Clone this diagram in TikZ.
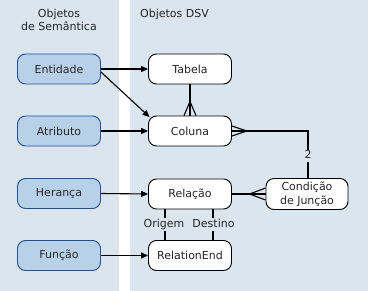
\documentclass[tikz,border=0pt]{standalone}
\usepackage{fontspec}
\setmainfont{DejaVu Sans}
\usetikzlibrary{arrows.meta,calc}
\definecolor{panel}{HTML}{DAE5EE}
\definecolor{semfill}{HTML}{B9D1E8}
\definecolor{semdraw}{HTML}{1F4FA0}
\tikzset{
  txt/.style={font=\fontsize{11}{14}\selectfont, text=black!85},
  box/.style={txt, draw=black, line width=0.9pt, rounded corners=8pt,
              minimum width=83pt, minimum height=30pt, inner sep=1pt, align=center},
  sem/.style={box, fill=semfill, draw=semdraw},
  dsv/.style={box, fill=white},
  conn/.style={line width=1.1pt, draw=black},
  arr/.style={conn, -{Triangle[length=7pt,width=6pt]}},
  lbl/.style={txt, fill=panel, inner sep=1pt, text height=8pt, text depth=2.5pt},
}
\begin{document}
\begin{tikzpicture}[x=1pt,y=-1pt]
\useasboundingbox (0,0) rectangle (368,291);
\fill[white] (0,0) rectangle (368,291);
\fill[panel] (0,0) rectangle (119.5,291);
\fill[panel] (130,0) rectangle (368,291);

\node[txt, font=\fontsize{11}{13}\selectfont, align=center] (hsem) at (59,19.5) {Objetos\\de Semântica};
\node[txt, anchor=west, inner sep=0pt] (hdsv) at (140,14) {Objetos DSV};

\node[sem] (ent) at (59,69) {Entidade};
\node[sem] (atr) at (59,131) {Atributo};
\node[sem] (her) at (59,193.5) {Herança};
\node[sem] (fun) at (59,255.5) {Função};

\node[dsv] (tab) at (190,69) {Tabela};
\node[dsv] (col) at (190,131) {Coluna};
\node[dsv] (rel) at (190,194) {Relação};
\node[dsv] (rend) at (190,255.5) {RelationEnd};
\node[dsv, minimum width=82pt, minimum height=31pt] (cond) at (307,194) {Condição\\de Junção};

% arrows from semantic objects
\draw[arr] (ent.east) -- (tab.west);
\draw[arr] ($(ent.east)+(0,3)$) -- ($(col.north west)+(1.5,1.5)$);
\draw[arr] (atr.east) -- (col.west);
\draw[arr] (her.east) -- (rel.west);
\draw[arr] (fun.east) -- (rend.west);

% Tabela - Coluna (crow's foot at Coluna)
\coordinate (cf1) at ($(col.north)+(0,-14)$);
\draw[conn] (tab.south) -- (col.north);
\draw[conn] (cf1) -- ($(col.north)+(-6,0)$);
\draw[conn] (cf1) -- ($(col.north)+(6,0)$);

% Coluna - Condicao
\coordinate (cf2) at ($(col.east)+(15,0)$);
\coordinate (bend) at (308,131);
\draw[conn] (col.east) -- (bend) -- (bend |- cond.north);
\draw[conn] (cf2) -- ($(col.east)+(0,-5)$);
\draw[conn] (cf2) -- ($(col.east)+(0,5)$);
\node[lbl] (two) at (308,156) {2};

% Relacao - Condicao
\coordinate (cf3) at ($(cond.west)+(-16,0)$);
\draw[conn, line width=1.5pt] (rel.east) -- (cond.west);
\draw[conn] (cf3) -- ($(cond.west)+(0,-6)$);
\draw[conn] (cf3) -- ($(cond.west)+(0,6)$);

% Relacao - RelationEnd
\coordinate (o1) at (165,0);
\coordinate (d1) at (213,0);
\draw[conn] (o1 |- rel.south) -- (o1 |- rend.north);
\draw[conn] (d1 |- rel.south) -- (d1 |- rend.north);
\node[lbl] (orig) at (164,224.5) {Origem};
\node[lbl] (dest) at (213.5,224.5) {Destino};
\end{tikzpicture}
\end{document}
